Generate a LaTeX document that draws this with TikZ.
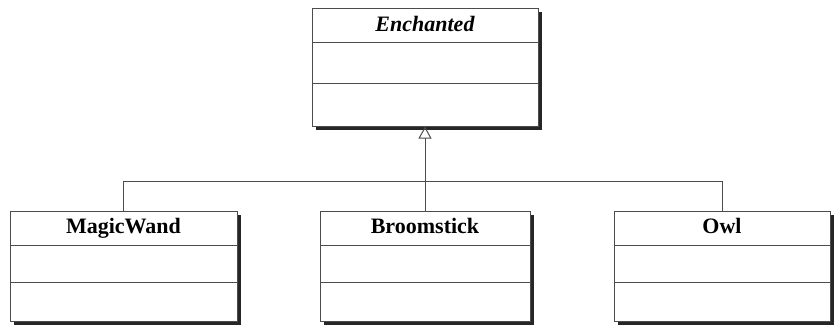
\documentclass[tikz,border=0pt]{standalone}
\usepackage{fontspec}
\setmainfont{Liberation Serif}
\usepackage{tikz}
\usetikzlibrary{math,calc,shadows,arrows.meta}
\colorlet{umlline}{black!70}
\tikzset{%
  class box/.style={rectangle, draw=umlline, line width=1pt, fill=white, inner sep=0pt,
    drop shadow={shadow xshift=3.5pt, shadow yshift=-3.5pt, fill=black!85, opacity=1}},
  class name/.style={font=\fontsize{22}{26}\selectfont\bfseries, inner sep=0pt, anchor=base},
  compartment/.style={draw=umlline, line width=1pt},
  inherits/.style={draw=umlline, line width=1pt, -{Triangle[open, width=13pt, length=12pt]}}
}

\begin{document}
\begin{tikzpicture}[x=1pt,y=-1pt]
    \tikzmath{
      \n=35; % name compartment height
      \b=23; % baseline below top
    }
    \useasboundingbox (0,0) rectangle (835,325);
    % superclass
    \node[class box, minimum width=226pt, minimum height=118pt] (enchanted) at (425,67) {};
    \node[class name, font=\fontsize{22}{26}\selectfont\bfseries\itshape] (enchanted name)
      at ($(enchanted.north)+(0,\b+1)$) {Enchanted};
    \draw[compartment] ($(enchanted.north west)+(0,\n)$) -- ($(enchanted.north east)+(0,\n)$);
    \draw[compartment] ($(enchanted.north west)+(0,76)$) -- ($(enchanted.north east)+(0,76)$);
    % subclasses
    \foreach \name/\x/\w/\label in {wand/123.5/227/MagicWand, broom/425/210/Broomstick, owl/722/216/Owl} {
      \node[class box, minimum width=\w pt, minimum height=110pt] (\name) at (\x,266) {};
      \node[class name] (\name name) at ($(\name.north)+(0,\b)$) {\label};
      \draw[compartment] ($(\name.north west)+(0,\n)$) -- ($(\name.north east)+(0,\n)$);
      \draw[compartment] ($(\name.north west)+(0,72)$) -- ($(\name.north east)+(0,72)$);
    }
    % generalization
    \coordinate (bar) at ($(enchanted.south)!0.66!(broom.north)$);
    \foreach \c in {wand,owl} {
      \draw[compartment] (\c.north) |- (bar);
    }
    \draw[inherits] (broom.north) -- (enchanted.south);
\end{tikzpicture}
\end{document}
